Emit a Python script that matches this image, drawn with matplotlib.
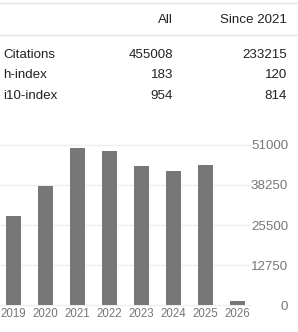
import matplotlib as mpl
import matplotlib.pyplot as plt
from matplotlib.lines import Line2D

W, H = 298, 332
DPI = 100

years = ["2019", "2020", "2021", "2022", "2023", "2024", "2025", "2026"]
citations = [28400, 37900, 50000, 49100, 44300, 42700, 44600, 1300]
y_ticks = [0, 12750, 25500, 38250, 51000]

header = ["All", "Since 2021"]
row_labels = ["Citations", "h-index", "i10-index"]
col_all = ["455008", "183", "954"]
col_since = ["233215", "120", "814"]

BAR_COLOR = "#777777"
GRID_COLOR = "#eeeeee"
TICK_COLOR = "#777777"
TEXT_COLOR = "#222222"

mpl.rcParams.update({"font.family": ["Liberation Sans", "DejaVu Sans"]})


def fx(px):
    return px / W


def fy(py):
    return 1 - py / H


fig = plt.figure(figsize=(W / DPI, H / DPI), dpi=DPI)

# stats table
for y in (3, 35):
    fig.add_artist(Line2D([0, 1], [fy(y), fy(y)], color="#e4e4e4", lw=1.0))
fig.text(fx(173), fy(20), header[0], ha="right", va="center", fontsize=9.6, color=TEXT_COLOR)
fig.text(fx(287), fy(20), header[1], ha="right", va="center", fontsize=9.6, color=TEXT_COLOR)
for i, (lab, a, s) in enumerate(zip(row_labels, col_all, col_since)):
    yc = fy(55 + i * 20.5)
    fig.text(fx(3), yc, lab, ha="left", va="center", fontsize=9.6, color=TEXT_COLOR)
    fig.text(fx(173), yc, a, ha="right", va="center", fontsize=9.6, color=TEXT_COLOR)
    fig.text(fx(287), yc, s, ha="right", va="center", fontsize=9.6, color=TEXT_COLOR)

# bar chart
ax = fig.add_axes([fx(0), fy(305), fx(250), (305 - 145) / H])
x = list(range(len(years)))
ax.bar(x, citations, width=0.47, color=BAR_COLOR, zorder=2)
ax.set_ylim(0, 51000)
ax.set_xlim(-0.42, 7.39)
for t in y_ticks:
    ax.axhline(t, color=GRID_COLOR, lw=1.0, zorder=1, clip_on=False)
for side in ax.spines.values():
    side.set_visible(False)

ax.set_xticks(x)
ax.set_xticklabels(years, fontsize=8.3, color=TICK_COLOR)
ax.tick_params(axis="x", length=0, pad=2.0)

ax.yaxis.tick_right()
ax.set_yticks(y_ticks)
ax.set_yticklabels([str(t) for t in y_ticks], fontsize=9.6, color=TICK_COLOR)
ax.tick_params(axis="y", length=0, pad=27.4)
for lbl in ax.get_yticklabels():
    lbl.set_horizontalalignment("right")

fig.savefig("out.png", dpi=DPI)
